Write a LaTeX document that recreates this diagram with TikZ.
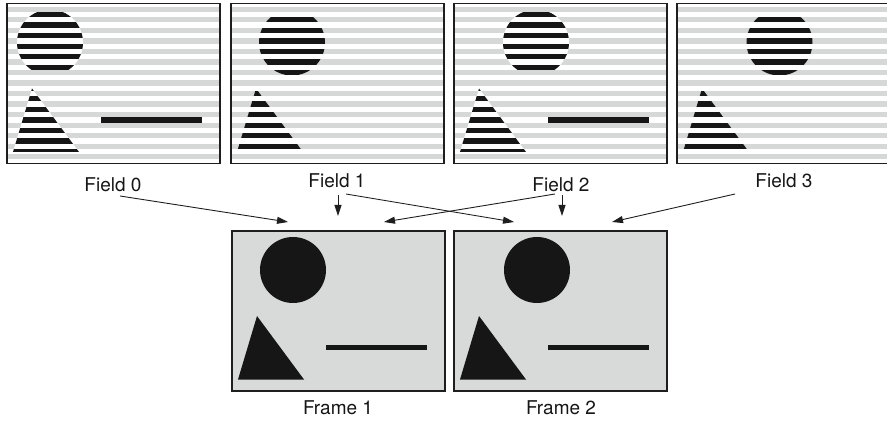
\documentclass[tikz,border=0pt]{standalone}
\usepackage{fontspec}
\setmainfont{TeX Gyre Heros}
\usetikzlibrary{arrows.meta}

\definecolor{stripe}{HTML}{D6D8D8}
\definecolor{panel}{HTML}{D8DADA}
\definecolor{ink}{HTML}{161616}
\definecolor{edge}{HTML}{1E1E1E}

\tikzset{
  boxline/.style={draw=edge, line width=1.3pt},
  caption/.style={font=\fontsize{19}{22}\selectfont, text=ink, inner sep=0pt},
  feed/.style={draw=edge, line width=0.9pt, -{Triangle[length=11pt,width=7pt]}},
}

% scan line k of parity p: top edge and bottom edge
\newcommand\rowtop[2]{3.2+5.265*#1+10.53*#2}
\newcommand\rowbot[2]{8.465+5.265*#1+10.53*#2}

% one interlaced field: #1,#2 top-left corner, #3 line parity (0 or 1), #4 circle centre x
\newcommand\fieldpic[4]{%
  \begin{scope}[shift={(#1,#2)}]
    \fill[white] (0,0) rectangle (213,160);
    \foreach \k in {0,...,14}
      \fill[stripe] (0,\rowtop{0}{\k}) rectangle (213,\rowbot{0}{\k});
    % circle, cut into scan lines
    \begin{scope}
      \clip (0,8.6) rectangle (213,71.4);
      \clip (#4,39) circle[radius=33];
      \ifnum#3=1 \fill[white] (0,8.4) rectangle (213,66.4);\fi
      \foreach \k in {0,...,7}
        \fill[ink] (0,\rowtop{#3}{\k}) rectangle (213,\rowbot{#3}{\k});
    \end{scope}
    % triangle, cut into scan lines
    \begin{scope}
      \clip (25,85) -- (6,148.5) -- (72,148.5) -- cycle;
      \ifnum#3=1 \fill[white] (0,80) rectangle (213,150);\fi
      \foreach \k in {7,...,14}
        \fill[ink] (0,\rowtop{#3}{\k}) rectangle (213,\rowbot{#3}{\k});
    \end{scope}
    % the bar lies on a single scan line of parity 1
    \ifnum#3=1 \fill[ink] (94,\rowtop{1}{10}) rectangle (195,\rowbot{1}{10});\fi
    \draw[boxline] (0,0) rectangle (213,160);
  \end{scope}}

% one full frame: #1,#2 top-left corner, #3 circle centre x
\newcommand\framepic[3]{%
  \begin{scope}[shift={(#1,#2)}]
    \fill[panel] (0,0) rectangle (213,160);
    \fill[ink] (#3,39) circle[radius=33];
    \fill[ink] (25,85) -- (6,148.5) -- (72,148.5) -- cycle;
    \fill[ink] (94,114) rectangle (195,119.2);
    \draw[boxline] (0,0) rectangle (213,160);
  \end{scope}}

\begin{document}
\begin{tikzpicture}[x=1pt, y=-1pt]
  \useasboundingbox (0,0) rectangle (887,422);
  \clip (0,0) rectangle (887,422);

  % fields
  \fieldpic{7}{3.5}{1}{43}
  \fieldpic{231}{3.5}{0}{61}
  \fieldpic{454}{3.5}{1}{82}
  \fieldpic{677}{3.5}{0}{102.5}

  % frames
  \framepic{232}{231}{61}
  \framepic{454}{231}{83}

  % captions
  \node[caption] (f0) at (113,185) {Field 0};
  \node[caption] (f1) at (337,181) {Field 1};
  \node[caption] (f2) at (561,185) {Field 2};
  \node[caption] (f3) at (784,181) {Field 3};
  \node[caption] (fr1) at (338,408) {Frame 1};
  \node[caption] (fr2) at (561,408) {Frame 2};

  % arrow end points
  \coordinate (s0)  at (120,196);
  \coordinate (s1a) at (338,195);
  \coordinate (s1b) at (346,194);
  \coordinate (s2a) at (555,194);
  \coordinate (s2b) at (562,195);
  \coordinate (s3)  at (735,194);
  \coordinate (e0)  at (288,222);
  \coordinate (e1a) at (338,216);
  \coordinate (e1b) at (514,222);
  \coordinate (e2a) at (384,222);
  \coordinate (e2b) at (562,216);
  \coordinate (e3)  at (612,222);

  \draw[feed] (s0) -- (e0);
  \draw[feed] (s1a) -- (e1a);
  \draw[feed] (s1b) -- (e1b);
  \draw[feed] (s2a) -- (e2a);
  \draw[feed] (s2b) -- (e2b);
  \draw[feed] (s3) -- (e3);
\end{tikzpicture}
\end{document}
